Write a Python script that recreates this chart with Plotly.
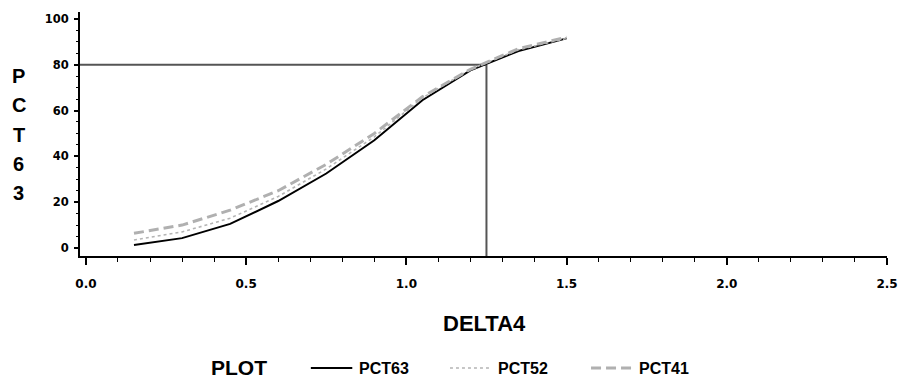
import plotly.graph_objects as go

# DELTA4 values and cumulative percentages for each series
delta4 = [0.15, 0.30, 0.45, 0.60, 0.75, 0.90, 1.05, 1.20, 1.35, 1.50]
pct63 = [1.3, 4.3, 10.5, 20.5, 32.5, 47.0, 64.5, 77.5, 86.0, 91.5]
pct52 = [3.5, 7.0, 13.0, 22.5, 34.5, 48.5, 65.5, 78.0, 86.5, 91.5]
pct41 = [6.4, 10.0, 16.5, 25.0, 36.5, 50.0, 66.0, 78.0, 87.0, 92.0]

series_names = ["PCT63", "PCT52", "PCT41"]

# reference point marked with drop lines
ref_x = 1.25
ref_y = 80

x_ticks = [0.0, 0.5, 1.0, 1.5, 2.0, 2.5]
x_labels = ["0.0", "0.5", "1.0", "1.5", "2.0", "2.5"]
y_ticks = [0, 20, 40, 60, 80, 100]

TICK_FONT = "DejaVu Sans"
TEXT_FONT = "Liberation Sans"
styles = [
    dict(color="#000000", width=2),
    dict(color="#b4b4b4", width=1.6, dash="3px,3px"),
    dict(color="#b0b0b0", width=3, dash="10px,5px"),
]

# plot-area geometry in pixels (for placing the outside texts)
L, R, T, B = 80, 11, 12, 123
W, H = 909, 379
PW, PH = W - L - R, H - T - B


def px(xp):
    return (xp - L) / PW


def py(yp):
    return (H - B - yp) / PH


fig = go.Figure()
for name, vals, st in zip(series_names, [pct63, pct52, pct41], styles):
    fig.add_trace(go.Scatter(x=delta4, y=vals, name=name, mode="lines", line=st))

x_lo = -0.0185
y_lo = -3.5

# drop lines to the reference point
fig.add_shape(type="line", xref="x", yref="y", x0=x_lo, x1=ref_x, y0=ref_y, y1=ref_y,
              line=dict(color="#555555", width=2), layer="below")
fig.add_shape(type="line", xref="x", yref="y", x0=ref_x, x1=ref_x, y0=y_lo, y1=ref_y,
              line=dict(color="#555555", width=2), layer="below")

# vertically stacked y-axis title
for i, ch in enumerate(series_names[0]):
    fig.add_annotation(text=ch, xref="paper", yref="paper",
                       x=px(18), y=py(76 + i * 29.3),
                       xanchor="center", yanchor="middle", showarrow=False,
                       font=dict(family=TEXT_FONT, size=20, color="#000", weight="bold"))

fig.add_annotation(text="DELTA4", xref="paper", yref="paper",
                   x=px(490), y=py(323),
                   xanchor="center", yanchor="middle", showarrow=False,
                   font=dict(family=TEXT_FONT, size=22, color="#000", weight="bold"))

# legend row: title, line samples and labels
legend_y = 367
fig.add_annotation(text="PLOT", xref="paper", yref="paper",
                   x=px(211), y=py(legend_y), xanchor="left", yanchor="middle",
                   showarrow=False,
                   font=dict(family=TEXT_FONT, size=21, color="#000", weight="bold"))
sample_x = [314, 455, 598]
for name, st, sx in zip(series_names, styles, sample_x):
    fig.add_shape(type="line", xref="paper", yref="paper",
                  x0=px(sx), x1=px(sx + 42), y0=py(legend_y + 1), y1=py(legend_y + 1),
                  line=st)
    fig.add_annotation(text=name, xref="paper", yref="paper",
                       x=px(sx + 47), y=py(legend_y + 1), xanchor="left", yanchor="middle",
                       showarrow=False,
                       font=dict(family=TEXT_FONT, size=16, color="#000", weight="bold"))

fig.update_layout(
    width=W, height=H,
    margin=dict(l=L, r=R, t=T, b=B),
    paper_bgcolor="white", plot_bgcolor="white",
    showlegend=False,
    xaxis=dict(
        range=[x_lo, 2.5], showgrid=False, zeroline=False,
        showline=True, linecolor="#000", linewidth=2,
        tickmode="array", tickvals=x_ticks, ticktext=x_labels,
        ticks="outside", ticklen=7, tickwidth=1.5, tickcolor="#000",
        ticklabelstandoff=9,
        minor=dict(dtick=0.1, tick0=0, ticks="outside", ticklen=4, tickwidth=1, tickcolor="#000"),
        tickfont=dict(family=TICK_FONT, size=12, color="#000", weight="bold"),
    ),
    yaxis=dict(
        range=[y_lo, 103], showgrid=False, zeroline=False,
        showline=True, linecolor="#000", linewidth=2,
        tickmode="array", tickvals=y_ticks,
        ticks="outside", ticklen=4, tickwidth=1.5, tickcolor="#000",
        ticklabelstandoff=3,
        minor=dict(dtick=5, tick0=0, ticks="outside", ticklen=2, tickwidth=1, tickcolor="#000"),
        tickfont=dict(family=TICK_FONT, size=11.5, color="#000", weight="bold"),
    ),
)

fig.write_html("out.html")
